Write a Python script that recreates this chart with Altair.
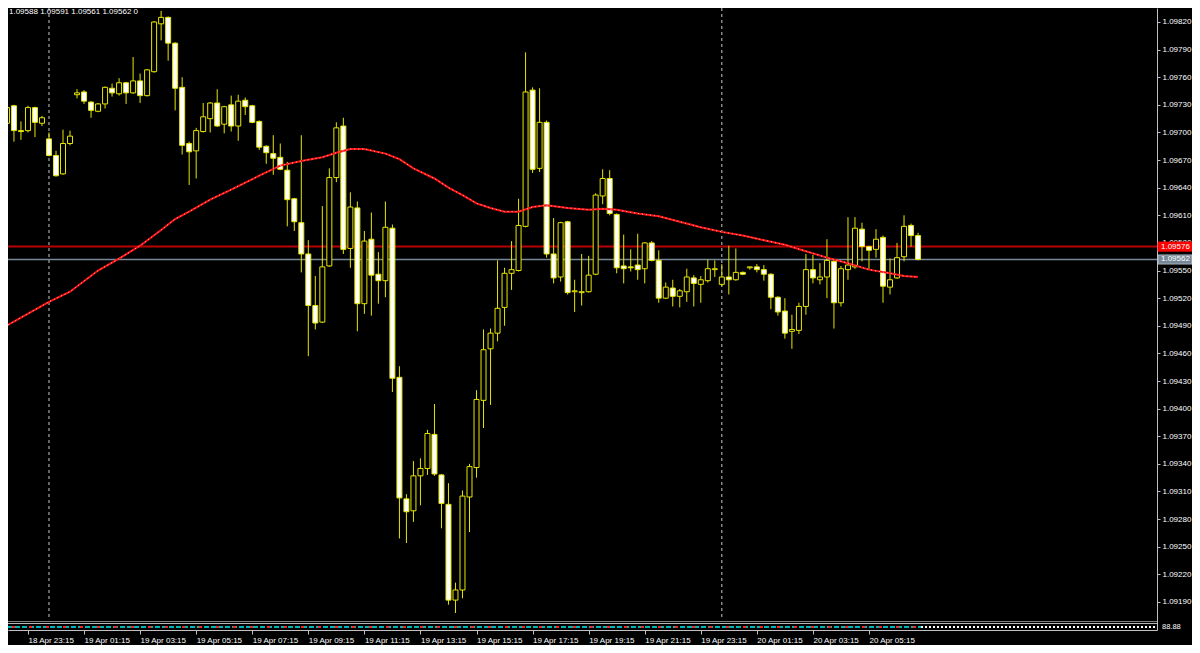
import altair as alt
import pandas as pd

# ---------------- data ----------------
candle_idx = list(range(-3, 128))  # 15-minute candles, 0 = 18 Apr 23:15

opens = [1.09710, 1.09729, 1.09702, 1.09702, 1.09727, 1.09710, 1.09693, 1.09675, 1.09655, 1.09688,
         1.09741, 1.09744, 1.09733, 1.09723, 1.09731, 1.09748, 1.09742, 1.09754, 1.09743, 1.09756,
         1.09740, 1.09766, 1.09818, 1.09825, 1.09797, 1.09749, 1.09688, 1.09680, 1.09701, 1.09715,
         1.09732, 1.09709, 1.09730, 1.09707, 1.09735, 1.09729, 1.09712, 1.09685, 1.09677, 1.09673,
         1.09659, 1.09628, 1.09602, 1.09568, 1.09512, 1.09494, 1.09555, 1.09651, 1.09707, 1.09574,
         1.09618, 1.09514, 1.09584, 1.09546, 1.09539, 1.09596, 1.09434, 1.09302, 1.09289, 1.09327,
         1.09335, 1.09372, 1.09328, 1.09296, 1.09192, 1.09203, 1.09304, 1.09336, 1.09409, 1.09465,
         1.09482, 1.09510, 1.09547, 1.09550, 1.09598, 1.09746, 1.09661, 1.09711, 1.09568, 1.09543,
         1.09603, 1.09527, 1.09526, 1.09527, 1.09546, 1.09631, 1.09650, 1.09611, 1.09555, 1.09554,
         1.09556, 1.09552, 1.09580, 1.09561, 1.09520, 1.09531, 1.09522, 1.09527, 1.09542, 1.09535,
         1.09539, 1.09551, 1.09535, 1.09543, 1.09540, 1.09548, 1.09553, 1.09554, 1.09551, 1.09546,
         1.09521, 1.09506, 1.09484, 1.09485, 1.09511, 1.09551, 1.09540, 1.09543, 1.09560, 1.09515,
         1.09551, 1.09554, 1.09595, 1.09576, 1.09573, 1.09586, 1.09532, 1.09542, 1.09565, 1.09599,
         1.09588]
highs = [1.09733, 1.09730, 1.09712, 1.09729, 1.09728, 1.09718, 1.09700, 1.09680, 1.09703, 1.09702,
         1.09747, 1.09746, 1.09734, 1.09732, 1.09750, 1.09753, 1.09759, 1.09755, 1.09782, 1.09764,
         1.09769, 1.09821, 1.09832, 1.09826, 1.09798, 1.09760, 1.09690, 1.09705, 1.09732, 1.09733,
         1.09747, 1.09729, 1.09740, 1.09741, 1.09738, 1.09730, 1.09713, 1.09686, 1.09697, 1.09688,
         1.09668, 1.09629, 1.09697, 1.09583, 1.09544, 1.09620, 1.09661, 1.09711, 1.09716, 1.09635,
         1.09625, 1.09593, 1.09613, 1.09570, 1.09625, 1.09600, 1.09446, 1.09307, 1.09343, 1.09346,
         1.09377, 1.09405, 1.09329, 1.09319, 1.09211, 1.09311, 1.09340, 1.09420, 1.09486, 1.09487,
         1.09561, 1.09553, 1.09582, 1.09628, 1.09787, 1.09749, 1.09748, 1.09713, 1.09607, 1.09603,
         1.09604, 1.09540, 1.09568, 1.09566, 1.09634, 1.09660, 1.09659, 1.09612, 1.09589, 1.09573,
         1.09590, 1.09581, 1.09582, 1.09572, 1.09537, 1.09540, 1.09530, 1.09552, 1.09545, 1.09544,
         1.09562, 1.09561, 1.09557, 1.09577, 1.09574, 1.09549, 1.09554, 1.09557, 1.09556, 1.09547,
         1.09522, 1.09520, 1.09502, 1.09515, 1.09568, 1.09567, 1.09558, 1.09584, 1.09562, 1.09555,
         1.09608, 1.09608, 1.09602, 1.09577, 1.09595, 1.09588, 1.09563, 1.09580, 1.09610, 1.09601,
         1.09591]
lows = [1.09690, 1.09690, 1.09692, 1.09700, 1.09695, 1.09707, 1.09674, 1.09652, 1.09654, 1.09686,
        1.09737, 1.09731, 1.09716, 1.09722, 1.09726, 1.09739, 1.09740, 1.09731, 1.09742, 1.09732,
        1.09739, 1.09765, 1.09800, 1.09778, 1.09724, 1.09676, 1.09643, 1.09650, 1.09700, 1.09700,
        1.09706, 1.09699, 1.09701, 1.09691, 1.09719, 1.09710, 1.09681, 1.09666, 1.09654, 1.09659,
        1.09598, 1.09593, 1.09548, 1.09457, 1.09486, 1.09493, 1.09554, 1.09646, 1.09568, 1.09553,
        1.09484, 1.09503, 1.09501, 1.09514, 1.09521, 1.09418, 1.09259, 1.09254, 1.09277, 1.09295,
        1.09328, 1.09327, 1.09270, 1.09187, 1.09178, 1.09194, 1.09266, 1.09325, 1.09379, 1.09404,
        1.09473, 1.09490, 1.09529, 1.09549, 1.09597, 1.09656, 1.09657, 1.09564, 1.09536, 1.09538,
        1.09524, 1.09505, 1.09512, 1.09526, 1.09545, 1.09622, 1.09610, 1.09547, 1.09536, 1.09549,
        1.09540, 1.09536, 1.09560, 1.09515, 1.09519, 1.09511, 1.09510, 1.09516, 1.09511, 1.09515,
        1.09537, 1.09543, 1.09533, 1.09524, 1.09539, 1.09545, 1.09551, 1.09548, 1.09539, 1.09508,
        1.09501, 1.09476, 1.09465, 1.09481, 1.09502, 1.09536, 1.09535, 1.09520, 1.09487, 1.09511,
        1.09540, 1.09552, 1.09560, 1.09551, 1.09564, 1.09515, 1.09524, 1.09541, 1.09560, 1.09576,
        1.09561]
closes = [1.09727, 1.09702, 1.09701, 1.09727, 1.09711, 1.09716, 1.09675, 1.09653, 1.09688, 1.09696,
          1.09743, 1.09734, 1.09724, 1.09731, 1.09749, 1.09743, 1.09754, 1.09743, 1.09756, 1.09740,
          1.09768, 1.09820, 1.09825, 1.09797, 1.09748, 1.09686, 1.09679, 1.09702, 1.09717, 1.09732,
          1.09707, 1.09728, 1.09707, 1.09734, 1.09728, 1.09711, 1.09684, 1.09678, 1.09672, 1.09660,
          1.09627, 1.09603, 1.09568, 1.09512, 1.09493, 1.09554, 1.09651, 1.09705, 1.09573, 1.09619,
          1.09514, 1.09582, 1.09545, 1.09539, 1.09597, 1.09433, 1.09303, 1.09288, 1.09327, 1.09335,
          1.09373, 1.09329, 1.09297, 1.09192, 1.09203, 1.09305, 1.09337, 1.09410, 1.09464, 1.09482,
          1.09509, 1.09547, 1.09551, 1.09599, 1.09744, 1.09660, 1.09711, 1.09568, 1.09542, 1.09602,
          1.09526, 1.09528, 1.09527, 1.09545, 1.09632, 1.09650, 1.09612, 1.09553, 1.09552, 1.09553,
          1.09551, 1.09580, 1.09561, 1.09520, 1.09532, 1.09522, 1.09528, 1.09543, 1.09536, 1.09540,
          1.09552, 1.09552, 1.09543, 1.09540, 1.09548, 1.09546, 1.09554, 1.09551, 1.09546, 1.09521,
          1.09505, 1.09482, 1.09486, 1.09511, 1.09551, 1.09542, 1.09543, 1.09561, 1.09515, 1.09552,
          1.09556, 1.09596, 1.09576, 1.09572, 1.09584, 1.09533, 1.09540, 1.09564, 1.09598, 1.09588,
          1.09562]

# moving average (red line)
ma_idx = [-3.3, 3, 6, 10, 13, 16, 19, 21, 23, 26, 29, 33, 36, 39, 42, 44, 46, 48, 51, 53, 55, 58, 60,
          62, 64, 66, 68, 70, 72, 74, 77, 80, 82, 84, 87, 90, 93, 96, 99, 102, 105, 108, 111, 114,
          117, 120, 123, 125, 127]
ma_vals = [1.09489, 1.09516, 1.09527, 1.09550, 1.09563, 1.09577, 1.09594, 1.09606, 1.09614, 1.09627,
           1.09638, 1.09653, 1.09664, 1.09669, 1.09673, 1.09678, 1.09682, 1.09682, 1.09677, 1.09671,
           1.09661, 1.09650, 1.09640, 1.09632, 1.09623, 1.09618, 1.09614, 1.09614, 1.09619, 1.09621,
           1.09618, 1.09616, 1.09617, 1.09616, 1.09612, 1.09609, 1.09603, 1.09597, 1.09592, 1.09588,
           1.09583, 1.09578, 1.09571, 1.09564, 1.09558, 1.09551, 1.09547, 1.09544, 1.09543]

# time axis
time_tick_idx = [0, 8, 16, 24, 32, 40, 48, 56, 64, 72, 80, 88, 96, 104, 112, 120]
time_labels = ["18 Apr 23:15", "19 Apr 01:15", "19 Apr 03:15", "19 Apr 05:15", "19 Apr 07:15",
               "19 Apr 09:15", "19 Apr 11:15", "19 Apr 13:15", "19 Apr 15:15", "19 Apr 17:15",
               "19 Apr 19:15", "19 Apr 21:15", "19 Apr 23:15", "20 Apr 01:15", "20 Apr 03:15",
               "20 Apr 05:15"]
# price axis
price_ticks = [1.09190, 1.09220, 1.09250, 1.09280, 1.09310, 1.09340, 1.09370, 1.09400, 1.09430,
               1.09460, 1.09490, 1.09520, 1.09550, 1.09580, 1.09610, 1.09640, 1.09670, 1.09700,
               1.09730, 1.09760, 1.09790, 1.09820]
# day separators (candle index of 00:00)
separator_idx = [3, 99]
# ask / bid lines
level_prices = [1.09576, 1.09562]
level_names = ["ask", "bid"]
volume_text = "0"

# ---------------- layout constants ----------------
W, H = 1149, 622
X_DOMAIN = [-2.136, 160.38]
Y_DOMAIN = [1.0915953, 1.098352]
FONT = "Liberation Sans"
FS = 8
YELLOW = "#e6e600"

xs = alt.Scale(domain=X_DOMAIN, nice=False, zero=False)
ys = alt.Scale(domain=Y_DOMAIN, nice=False, zero=False)

df = pd.DataFrame({"k": candle_idx, "open": opens, "high": highs, "low": lows, "close": closes})
ma_df = pd.DataFrame({"k": ma_idx, "ma": ma_vals})
sep_df = pd.DataFrame({"k": separator_idx})
lvl_df = pd.DataFrame({"price": level_prices, "name": level_names})
lvl_df["label"] = lvl_df["price"].map(lambda v: f"{v:.5f}")
lvl_df["top"] = lvl_df["price"] + 0.00005
lvl_df["bot"] = lvl_df["price"] - 0.00005

label_js = "[" + ",".join("'" + s + "'" for s in time_labels) + "]"

x_axis = alt.Axis(values=time_tick_idx, labelExpr=label_js + "[round(datum.value/8)]",
                  labelAlign="left", labelBaseline="top", labelColor="#ffffff", labelFont=FONT,
                  labelFontSize=FS, labelPadding=2, labelFlush=False, labelOverlap=False,
                  tickColor="#c0c0c0", tickSize=4, domainColor="#c0c0c0", grid=False, title=None)
y_axis = alt.Axis(orient="right", values=price_ticks, format=".5f", labelColor="#ffffff",
                  labelFont=FONT, labelFontSize=FS, labelPadding=2, labelFlush=False,
                  labelOverlap=False, tickColor="#c0c0c0", tickSize=3, domainColor="#c0c0c0",
                  grid=False, title=None)


def X(field):
    return alt.X(field, scale=xs, axis=x_axis)


def Y(field):
    return alt.Y(field, scale=ys, axis=y_axis)


base = alt.Chart(df)

separators = alt.Chart(sep_df).mark_rule(color="#c8c8c8", strokeDash=[3, 3], strokeWidth=1).encode(
    x=X("k:Q"))

ask_line = alt.Chart(lvl_df).transform_filter("datum.name == 'ask'").mark_rule(
    color="#b80000", strokeWidth=2).encode(y=Y("price:Q"))
bid_line = alt.Chart(lvl_df).transform_filter("datum.name == 'bid'").mark_rule(
    color="#778899", strokeWidth=1.5).encode(y=Y("price:Q"))

wicks = base.mark_rule(color=YELLOW, strokeWidth=1, clip=True).encode(
    x=X("k:Q"), y=Y("low:Q"), y2="high:Q")

bodies = base.mark_bar(size=5, stroke=YELLOW, strokeWidth=1, clip=True).encode(
    x=X("k:Q"), y=Y("open:Q"), y2="close:Q",
    fill=alt.condition("datum.close < datum.open", alt.value("#ffffff"), alt.value("#000000")))

ma_line = alt.Chart(ma_df).mark_line(color="#ff1010", strokeWidth=2, clip=True).encode(
    x=X("k:Q"), y=Y("ma:Q"))
ma_dots = alt.Chart(ma_df).mark_line(color="#ffc8c8", strokeWidth=1, strokeDash=[1, 3], clip=True).encode(
    x=X("k:Q"), y=Y("ma:Q"))

# indicator strip at the bottom of the chart window
strip_bg = alt.Chart(df).mark_rect(color="#000000").encode(
    x=alt.value(0), x2=alt.value(W), y=alt.value(612), y2=alt.value(H))
strip_l1 = alt.Chart(df).mark_rule(color="#808080", strokeWidth=1).encode(
    x=alt.value(0), x2=alt.value(W), y=alt.value(613.5))
strip_l2 = alt.Chart(df).mark_rule(color="#b8b8b8", strokeWidth=1).encode(
    x=alt.value(0), x2=alt.value(W), y=alt.value(615.5))
strip_c = alt.Chart(df).mark_rule(color="#00b4b4", strokeWidth=2, strokeDash=[5, 2]).encode(
    x=alt.value(0), x2=alt.value(913), y=alt.value(619))
strip_r = alt.Chart(df).mark_rule(color="#ff2020", strokeWidth=2, strokeDash=[3, 14]).encode(
    x=alt.value(4), x2=alt.value(913), y=alt.value(619))
strip_w = alt.Chart(df).mark_rule(color="#ffffff", strokeWidth=1, strokeDash=[2, 2]).encode(
    x=alt.value(913), x2=alt.value(W), y=alt.value(619))

boxes = alt.Chart(lvl_df).mark_rect().encode(
    x=alt.value(W + 1), x2=alt.value(W + 35),
    y=Y("top:Q"), y2="bot:Q",
    fill=alt.Fill("name:N", scale=alt.Scale(domain=["ask", "bid"], range=["#ff0000", "#778899"]),
                  legend=None),
    stroke=alt.Stroke("name:N", scale=alt.Scale(domain=["ask", "bid"], range=["#ff0000", "#c0c8d0"]),
                      legend=None),
    strokeWidth=alt.value(0.8))
box_text = alt.Chart(lvl_df).mark_text(align="left", baseline="middle", color="#ffffff",
                                       font=FONT, fontSize=FS).encode(
    x=alt.value(W + 4), y=Y("price:Q"), text="label:N")

header = f"{opens[-1]:.5f} {highs[-1]:.5f} {lows[-1]:.5f} {closes[-1]:.5f}  {volume_text}"
head_df = pd.DataFrame({"t": [header]})
head_text = alt.Chart(head_df).mark_text(align="left", baseline="top", color="#ffffff",
                                         font=FONT, fontSize=FS).encode(
    x=alt.value(1), y=alt.value(0), text="t:N")

strip_label = alt.Chart(pd.DataFrame({"t": ["88.88"]})).mark_text(
    align="left", baseline="middle", color="#ffffff", font=FONT, fontSize=7.5).encode(
    x=alt.value(W + 5), y=alt.value(619), text="t:N")

chart = alt.layer(
    separators, ask_line, bid_line, wicks, bodies, ma_line, ma_dots,
    strip_bg, strip_l1, strip_l2, strip_c, strip_r, strip_w,
    boxes, box_text, head_text, strip_label
).properties(
    width=W, height=H, background="#000000",
    padding={"left": 0, "top": 0, "right": 35, "bottom": 15},
    autosize=alt.AutoSizeParams(type="none"),
).configure_view(stroke="transparent")

chart.save("out.html", embed_options={"renderer": "svg", "actions": False})
